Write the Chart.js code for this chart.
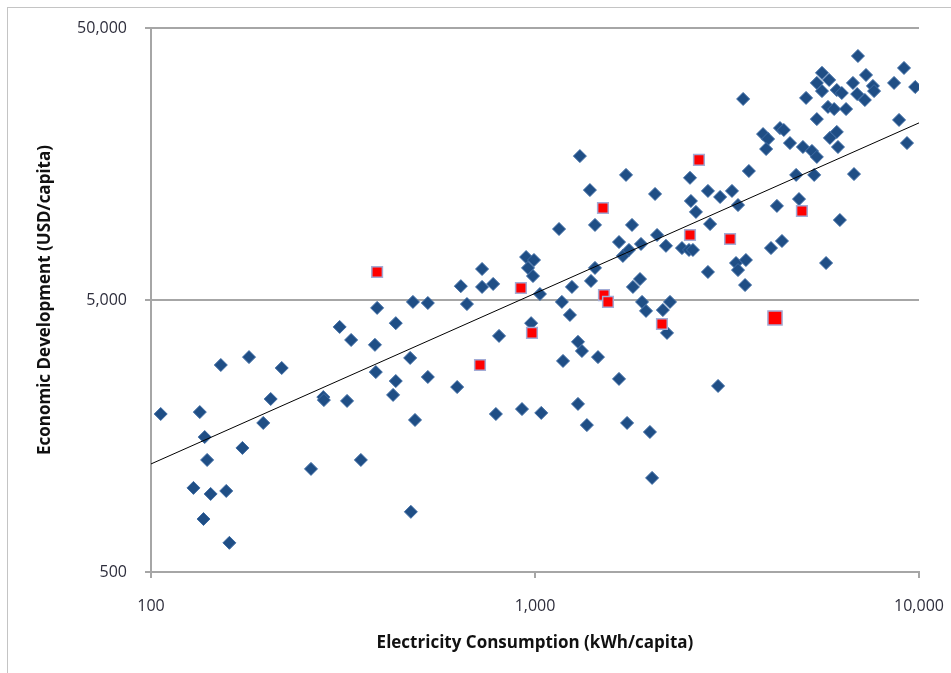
<!DOCTYPE html>
<html>
<head>
<meta charset="utf-8">
<script src="https://cdn.jsdelivr.net/npm/chart.js@4.4.1/dist/chart.umd.min.js"></script>
<style>
  html, body { margin: 0; padding: 0; background: #fff; overflow: hidden; }
  #frame { position: absolute; left: 7px; top: 7px; width: 990px; height: 700px; border: 1px solid #c4c4c4; }
  #wrap { position: absolute; left: 0; top: 0; width: 951px; height: 673px; }
</style>
</head>
<body>
<div id="frame"></div>
<div id="wrap"><canvas id="chart"></canvas></div>
<script>
// electricity use (kWh/capita) vs GDP (USD/capita), one pair per country
const blueX = [106, 134, 138, 140, 129, 143, 157, 137, 160, 152, 180, 219, 205, 196, 173, 261, 281, 282, 324, 310,
  332, 383, 385, 434, 427, 388, 434, 352, 473, 526, 627, 487, 475, 481, 526, 665, 641, 728, 778, 728,
  948, 994, 959, 988, 806, 977, 791, 925, 1038, 1030, 1309, 1726, 1390, 2054, 1155, 1433, 1789, 1655, 1694, 1757,
  1888, 2079, 1248, 1399, 1433, 1877, 1799, 1175, 1233, 1900, 1946, 2153, 2247, 2207, 1294, 1325, 1183, 1459, 1655, 1294,
  1365, 1737, 1992, 2018, 2997, 3524, 2533, 3606, 2821, 3034, 3258, 2547, 2625, 3378, 2857, 2193, 2414, 2518, 2578, 4117,
  4397, 3338, 3542, 3378, 2821, 5728, 4786, 5333, 6772, 4266, 4870, 6223, 6935, 9140, 7278, 5589, 5420, 5834, 5589, 6730,
  7586, 7638, 6109, 6295, 6902, 8610, 9772, 7228, 5080, 3483, 5794, 6012, 6457, 5420, 8872, 3925, 4045, 4345, 4446, 4613,
  3998, 5861, 6109, 6152, 9306, 4986, 5263, 5420];
const blueY = [1905, 1936, 1567, 1291, 1019, 968, 993, 783, 640, 2884, 3083, 2812, 2163, 1766, 1429, 1197, 2198, 2143, 2128, 3981,
  3565, 3420, 2716, 2518, 2239, 4677, 4111, 1291, 3062, 2606, 2393, 1811, 832, 4920, 4875, 4831, 5623, 5585, 5728, 6501,
  7194, 7015, 6561, 6124, 3690, 4111, 1905, 1986, 1923, 5260, 16904, 14420, 12680, 12270, 9120, 9440, 9440, 8166, 7261, 7638,
  8035, 8670, 5585, 5875, 6561, 5970, 5585, 4920, 4406, 4920, 4560, 4592, 4920, 3784, 3508, 3247, 2985, 3083, 2564, 2075,
  1734, 1766, 1636, 1109, 2415, 5675, 14060, 14900, 12590, 11960, 12590, 11560, 10540, 11170, 9510, 7907, 7762, 7638, 7638, 7762,
  8241, 6839, 7015, 6442, 6339, 6839, 14420, 14420, 14520, 11090, 11750, 9840, 39450, 35650, 33590, 34200, 31410, 32210, 29310, 31410,
  30620, 29310, 29580, 28840, 28580, 31410, 30340, 27180, 27670, 27420, 25640, 25180, 25180, 23120, 22960, 20370, 19540, 21430, 21090, 18880,
  17950, 19720, 20750, 18260, 18880, 18260, 17660, 16790];

const redX = [388, 719, 919, 982, 1503, 1512, 1549, 2141, 2533, 2673, 3221, 4217, 4955];
const redY = [6339, 2884, 5534, 3784, 10890, 5212, 4920, 4083, 8670, 16370, 8375, 4295, 10620];

const trendX = [100, 10000];
const trendY = [1248, 22390];

const xTicks = [100, 1000, 10000];
const yTicks = [500, 5000, 50000];

document.addEventListener('DOMContentLoaded', () => {
  const canvas = document.getElementById('chart');
  const toPoints = (xs, ys) => xs.map((x, i) => ({ x, y: ys[i] }));
  const axisGray = '#a6a6a6';
  const tickColor = '#2e2e3c';
  const fmt = (v) => Number(v).toLocaleString('en-US');

  new Chart(canvas, {
    type: 'scatter',
    data: {
      datasets: [
        {
          type: 'line',
          data: toPoints(trendX, trendY),
          borderColor: '#000',
          borderWidth: 1,
          pointRadius: 0,
          fill: false
        },
        {
          data: toPoints(redX, redY),
          pointStyle: 'rect',
          pointRadius: redX.map((x) => (x === 4217 ? 10 : 7.5)),
          backgroundColor: '#ff0000',
          borderColor: '#a3acd6',
          borderWidth: 1.5
        },
        {
          data: toPoints(blueX, blueY),
          pointStyle: 'rectRot',
          pointRadius: 6.5,
          backgroundColor: '#1f4e85',
          borderColor: '#3e6ba3',
          borderWidth: 1
        }
      ]
    },
    options: {
      responsive: true,
      maintainAspectRatio: false,
      animation: false,
      layout: { padding: { left: 0, right: 32, top: 28, bottom: 0 } },
      plugins: { legend: { display: false }, tooltip: { enabled: false } },
      scales: {
        x: {
          type: 'logarithmic',
          min: 100,
          max: 10000,
          afterBuildTicks(axis) { axis.ticks = xTicks.map((value) => ({ value })); },
          afterFit(axis) {
            axis.height = 101;
            axis.paddingLeft = 0;
            axis.paddingRight = 0;
          },
          grid: { drawOnChartArea: false, drawTicks: true, tickLength: 6, color: axisGray, lineWidth: 2 },
          border: { display: true, color: axisGray, width: 2 },
          ticks: {
            autoSkip: false,
            maxRotation: 0,
            padding: 19,
            color: tickColor,
            font: { family: 'Open Sans', size: 16 },
            callback(value) { return fmt(value); }
          },
          title: {
            display: true,
            text: 'Electricity Consumption (kWh/capita)',
            color: '#111',
            font: { family: 'Open Sans', size: 17, weight: 'bold' },
            padding: { top: 0, bottom: 20 }
          }
        },
        y: {
          type: 'logarithmic',
          min: 500,
          max: 50000,
          afterBuildTicks(axis) { axis.ticks = yTicks.map((value) => ({ value })); },
          afterFit(axis) {
            axis.width = 151;
            axis.paddingTop = 0;
            axis.paddingBottom = 0;
          },
          grid: { drawOnChartArea: true, drawTicks: true, tickLength: 6, color: axisGray, lineWidth: 2 },
          border: { display: true, color: axisGray, width: 2 },
          ticks: {
            autoSkip: false,
            padding: 18,
            color: tickColor,
            font: { family: 'Open Sans', size: 16 },
            callback(value) { return fmt(value); }
          },
          title: {
            display: true,
            text: 'Economic Development (USD/capita)',
            color: '#111',
            font: { family: 'Open Sans', size: 17, weight: 'bold' },
            padding: { top: 35, bottom: 0 }
          }
        }
      }
    }
  });
});
</script>
</body>
</html>
